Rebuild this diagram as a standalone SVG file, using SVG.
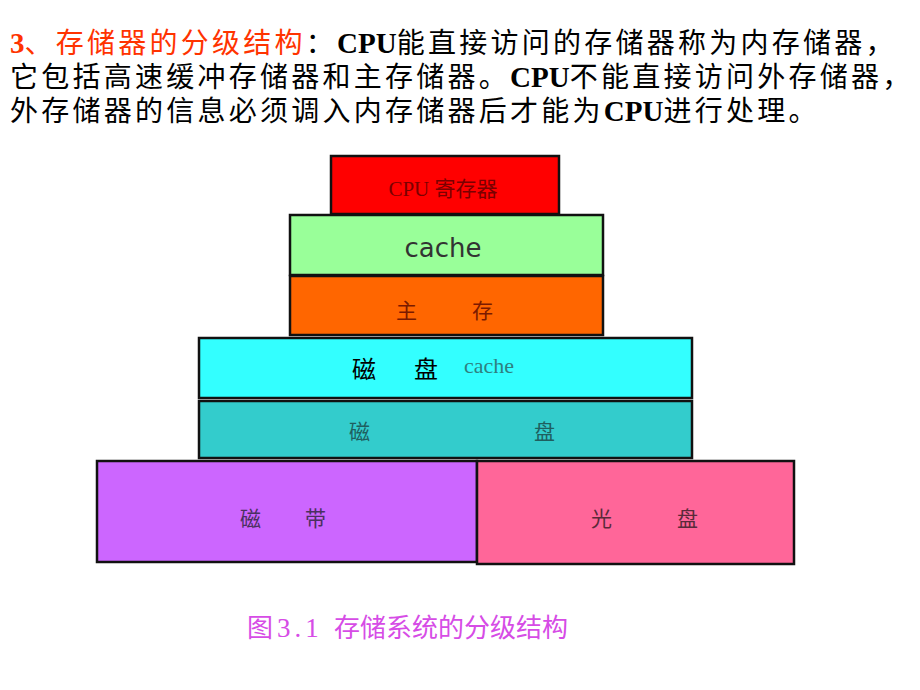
<svg xmlns="http://www.w3.org/2000/svg" width="920" height="690" viewBox="0 0 920 690">
<style>
.hd{font-family:"Liberation Sans","Noto Sans CJK SC",sans-serif;font-size:28px;fill:#000;letter-spacing:3.25px}
.b{font-family:"Liberation Serif",serif;font-weight:bold;font-size:29px;letter-spacing:0}
.red{fill:#ff3300}
.box{stroke:#111;stroke-width:2.5}
.cj{font-family:"Noto Sans CJK SC",sans-serif}
</style>
<rect width="920" height="690" fill="#fff"/>
<g id="header">
<text class="hd" x="10" y="53" letter-spacing="3"><tspan class="b red">3</tspan><tspan class="red">、存储器的分级结构</tspan>：<tspan class="b">CPU</tspan>能直接访问的存储器称为内存储器，</text>
<text class="hd" x="10" y="87">它包括高速缓冲存储器和主存储器。<tspan class="b">CPU</tspan>不能直接访问外存储器，</text>
<text class="hd" x="10" y="121">外存储器的信息必须调入内存储器后才能为<tspan class="b">CPU</tspan>进行处理。</text>
</g>
<g id="cpu">
<rect class="box" x="331" y="156" width="228" height="58" fill="#ff0000"/>
<text x="443" y="196" text-anchor="middle" font-size="21" fill="#7a0000"><tspan font-family="Liberation Serif,serif">CPU </tspan><tspan class="cj">寄存器</tspan></text>
</g>
<g id="cache">
<rect class="box" x="290" y="215" width="313" height="60" fill="#99ff99"/>
<text x="443" y="257" text-anchor="middle" font-family="DejaVu Sans,sans-serif" font-size="26" fill="#333">cache</text>
</g>
<g id="main">
<rect class="box" x="290" y="276" width="313" height="59" fill="#ff6600"/>
<text class="cj" x="396" y="318" font-size="21" fill="#7a1a00">主</text>
<text class="cj" x="472" y="318" font-size="21" fill="#7a1a00">存</text>
</g>
<g id="diskcache">
<rect class="box" x="199" y="338" width="493" height="60" fill="#33ffff"/>
<text class="cj" x="352" y="378" font-size="24" fill="#000">磁</text>
<text class="cj" x="414" y="378" font-size="24" fill="#000">盘</text>
<text x="464" y="373" font-family="Liberation Serif,serif" font-size="22" fill="#2e8080">cache</text>
</g>
<g id="disk">
<rect class="box" x="199" y="401" width="493" height="57" fill="#33cccc"/>
<text class="cj" x="349" y="439" font-size="21" fill="#1f5f5f">磁</text>
<text class="cj" x="534" y="439" font-size="21" fill="#1f5f5f">盘</text>
</g>
<g id="tape">
<rect class="box" x="97" y="461" width="380" height="101" fill="#cc66ff"/>
<text class="cj" x="240" y="526" font-size="21" fill="#4a3060">磁</text>
<text class="cj" x="305" y="526" font-size="21" fill="#4a3060">带</text>
</g>
<g id="disc">
<rect class="box" x="477" y="461" width="317" height="103" fill="#ff6699"/>
<text class="cj" x="591" y="526" font-size="21" fill="#5a2a3a">光</text>
<text class="cj" x="677" y="526" font-size="21" fill="#5a2a3a">盘</text>
</g>
<g id="connectors"></g>
<g id="caption">
<text x="247" y="637" font-size="26" fill="#d64ce6"><tspan class="cj">图</tspan><tspan x="277" font-family="Liberation Serif,serif" font-size="27" letter-spacing="4">3.1</tspan><tspan class="cj" x="334">存储系统的分级结构</tspan></text>
</g>
</svg>
